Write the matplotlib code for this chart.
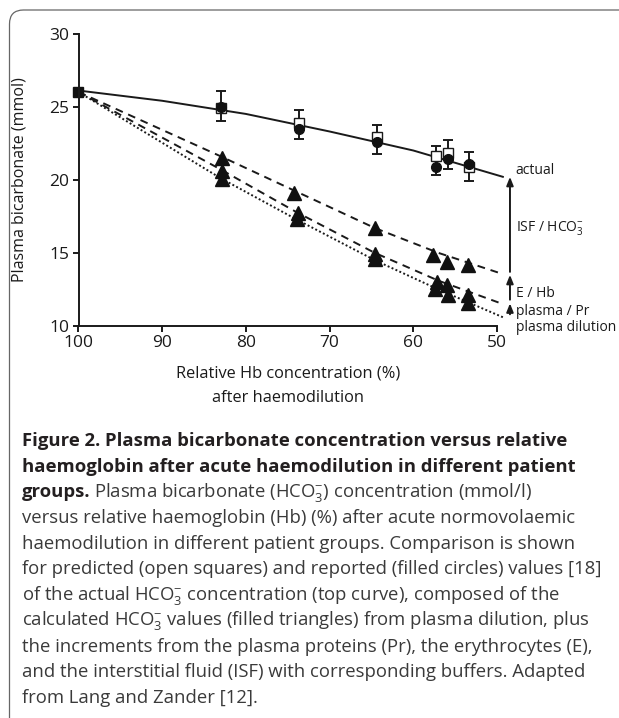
import matplotlib
matplotlib.use('Agg')
import matplotlib.pyplot as plt
from matplotlib.patches import FancyBboxPatch
from matplotlib.transforms import IdentityTransform

plt.rcParams['font.family'] = ['Open Sans', 'DejaVu Sans']
plt.rcParams['mathtext.fontset'] = 'custom'
plt.rcParams['mathtext.rm'] = 'Open Sans'
plt.rcParams['mathtext.it'] = 'Open Sans:italic'
plt.rcParams['mathtext.bf'] = 'Open Sans:bold'

# top curve (actual HCO3-)
actual_x = [100, 90, 80, 70, 60, 49.3]
actual_y = [26.1, 25.4, 24.5, 23.3, 22.0, 20.2]

# calculated curves
calc_x = [100, 83, 74, 64.6, 57, 49.3]
isf_line = [26.0, 21.6, 19.2, 16.7, 15.0, 13.55]
pr_line = [26.0, 20.7, 17.8, 15.0, 13.1, 11.5]
dil_line = [26.0, 20.1, 17.3, 14.5, 12.5, 10.6]

# filled triangles
tri_top_x = [82.8, 74.3, 64.6, 57.7, 56.0, 53.5]
tri_top_y = [21.5, 19.1, 16.7, 14.85, 14.4, 14.2]
tri_mid_x = [82.8, 73.8, 64.6, 57.2, 56.0, 53.5]
tri_mid_y = [20.6, 17.7, 14.95, 13.0, 12.8, 12.1]
tri_low_x = [82.8, 73.9, 64.6, 57.4, 55.8, 53.5]
tri_low_y = [20.05, 17.35, 14.55, 12.5, 12.1, 11.6]

# predicted (open squares) and reported (filled circles)
obs_x = [83, 73.7, 64.3, 57.3, 55.8, 53.35]
pred_y = [24.9, 23.85, 22.9, 21.6, 21.8, 20.9]
rep_y = [24.95, 23.45, 22.6, 20.9, 21.45, 21.1]
err_lo = [24.0, 22.76, 21.74, 20.3, 20.71, 19.93]
err_hi = [26.05, 24.77, 23.74, 22.3, 22.72, 21.92]

start_x, start_y = 100, 26.0

# increments shown on the right
arrow_x = 48.45
arrows = [(13.7, 20.2), (11.8, 13.5), (10.8, 11.55)]
labels = ['actual', 'ISF / HCO$_3^{-}$', 'E / Hb', 'plasma / Pr', 'plasma dilution']
label_y = [20.6, 16.7, 12.2, 11.0, 9.9]

fig = plt.figure(figsize=(6.19, 7.18), dpi=100)
ax = fig.add_axes([78.5 / 619, 1 - 326 / 718, 418.5 / 619, 292.5 / 718])

frame = FancyBboxPatch((9.5, -30), 650, 718 - 10 + 30, boxstyle='round,pad=0,rounding_size=14',
                       transform=IdentityTransform(), fill=False, ec='#666666', lw=0.9)
fig.patches.append(frame)

lw = 1.4
ax.plot(actual_x, actual_y, color='#1a1a1a', lw=lw, clip_on=False)
ax.plot(calc_x, isf_line, color='#1a1a1a', lw=lw, ls=(0, (4, 3)), clip_on=False)
ax.plot(calc_x, pr_line, color='#1a1a1a', lw=lw, ls=(0, (4, 3)), clip_on=False)
ax.plot(calc_x, dil_line, color='#1a1a1a', lw=lw, ls=(0, (1, 1.2)), clip_on=False)

for tx, ty in [(tri_top_x, tri_top_y), (tri_mid_x, tri_mid_y), (tri_low_x, tri_low_y)]:
    ax.plot(tx, ty, ls='none', marker='^', ms=9.5, color='#111111', clip_on=False)

mid = [(a + b) / 2 for a, b in zip(err_lo, err_hi)]
half = [(b - a) / 2 for a, b in zip(err_lo, err_hi)]
ax.errorbar(obs_x, mid, yerr=half, fmt='none', ecolor='#1a1a1a', elinewidth=1.4, capsize=3.5, capthick=1.4)
ax.plot(obs_x, pred_y, ls='none', marker='s', ms=6.5, mfc='white', mec='#1a1a1a', mew=1.0)
ax.plot(obs_x, rep_y, ls='none', marker='o', ms=7, color='#111111')
ax.plot([start_x], [start_y], ls='none', marker='s', ms=7, color='#111111', clip_on=False)

for y0, y1 in arrows:
    ax.annotate('', xy=(arrow_x, y1), xytext=(arrow_x, y0), annotation_clip=False,
                arrowprops=dict(arrowstyle='-|>,head_length=0.5,head_width=0.2', lw=1.4,
                                color='#1a1a1a', shrinkA=0, shrinkB=0))
for txt, ly in zip(labels, label_y):
    ax.text(47.75, ly, txt, fontsize=10, va='center', ha='left', color='#1a1a1a', clip_on=False)

ax.set_xlim(100, 50)
ax.set_ylim(10, 30)
ax.set_xticks([100, 90, 80, 70, 60, 50])
ax.set_yticks([10, 15, 20, 25, 30])
for s in ['top', 'right']:
    ax.spines[s].set_visible(False)
for s in ['left', 'bottom']:
    ax.spines[s].set_linewidth(1.4)
    ax.spines[s].set_color('#1a1a1a')
ax.tick_params(length=4, width=1.4, labelsize=12.5, colors='#1a1a1a', pad=2.5)
ax.text(-0.14, 0.5, 'Plasma bicarbonate (mmol)', transform=ax.transAxes, rotation=90,
        fontsize=11.5, ha='center', va='center', color='#1a1a1a')
ax.text(0.5, -0.162, 'Relative Hb concentration (%)', transform=ax.transAxes, fontsize=11.8,
        ha='center', va='center', color='#1a1a1a')
ax.text(0.5, -0.245, 'after haemodilution', transform=ax.transAxes, fontsize=11.8,
        ha='center', va='center', color='#1a1a1a')

# caption
cap_size = 13.3
cap_x = 22 / 619
bold_lines = ['Figure 2. Plasma bicarbonate concentration versus relative',
              'haemoglobin after acute haemodilution in different patient']
body_lines = ['versus relative haemoglobin (Hb) (%) after acute normovolaemic',
              'haemodilution in different patient groups. Comparison is shown',
              'for predicted (open squares) and reported (filled circles) values [18]',
              'of the actual HCO$_3^{-}$ concentration (top curve), composed of the',
              'calculated HCO$_3^{-}$ values (filled triangles) from plasma dilution, plus',
              'the increments from the plasma proteins (Pr), the erythrocytes (E),',
              'and the interstitial fluid (ISF) with corresponding buffers. Adapted',
              'from Lang and Zander [12].']
line_y = [441 + 25.7 * i for i in range(11)]

for i, t in enumerate(bold_lines):
    fig.text(cap_x, 1 - line_y[i] / 718, t, fontsize=cap_size, fontweight='bold', va='center', color='#231f20')
g = fig.text(cap_x, 1 - line_y[2] / 718, 'groups.', fontsize=cap_size, fontweight='bold', va='center', color='#231f20')
fig.canvas.draw()
bb = g.get_window_extent()
fig.text((bb.x1 + 4) / 619, 1 - line_y[2] / 718, 'Plasma bicarbonate (HCO$_3^{-}$) concentration (mmol/l)',
         fontsize=cap_size, va='center', color='#3a3a3a')
for i, t in enumerate(body_lines):
    fig.text(cap_x, 1 - line_y[i + 3] / 718, t, fontsize=cap_size, va='center', color='#3a3a3a')

fig.savefig('out.png', dpi=100)
